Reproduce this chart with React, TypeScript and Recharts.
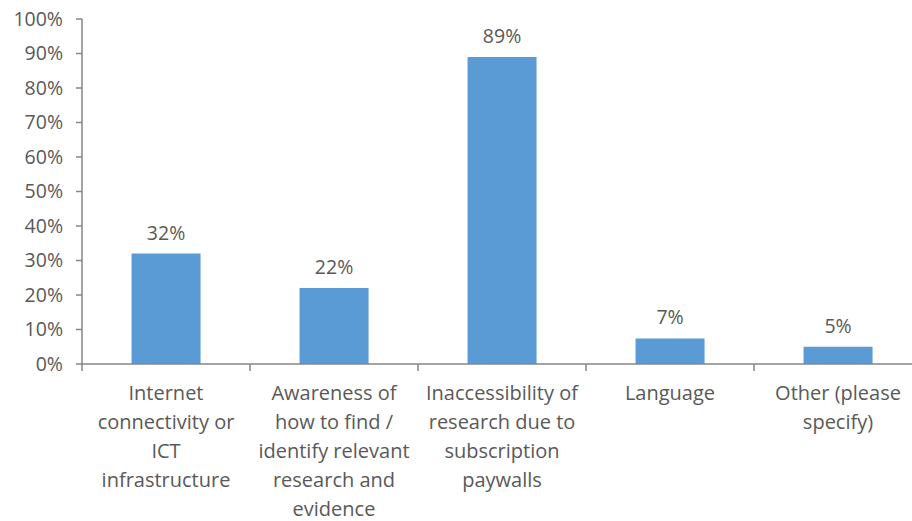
import { Bar, BarChart, LabelList, XAxis, YAxis } from "recharts";

const categories = [
  "Internet\nconnectivity or\nICT\ninfrastructure",
  "Awareness of\nhow to find /\nidentify relevant\nresearch and\nevidence",
  "Inaccessibility of\nresearch due to\nsubscription\npaywalls",
  "Language",
  "Other (please\nspecify)",
];
const shares = [32, 22, 89, 7.4, 5];
const yTicks = [0, 10, 20, 30, 40, 50, 60, 70, 80, 90, 100];

const data = categories.map((name, i) => ({ name, value: shares[i] }));

const CHART_W = 922;
const CHART_H = 521;
const Y_AXIS_W = 82;
const HALF_BAND = (CHART_W - Y_AXIS_W) / categories.length / 2;
const TEXT = "#595959";
const AXIS = "#868686";
const FONT = "'Open Sans', sans-serif";

function CategoryTick(props: any) {
  const { x, y, payload, index } = props;
  const lines = String(payload.value).split("\n");
  return (
    <g>
      <line x1={x - HALF_BAND} y1={y - 8} x2={x - HALF_BAND} y2={y - 1} stroke={AXIS} strokeWidth={1.5} />
      {index === categories.length - 1 && (
        <line x1={x + HALF_BAND} y1={y - 8} x2={x + HALF_BAND} y2={y - 1} stroke={AXIS} strokeWidth={1.5} />
      )}
      <text x={x} y={y + 28} textAnchor="middle" fill={TEXT} fontSize={20} fontFamily={FONT}>
        {lines.map((line, i) => (
          <tspan key={i} x={x} dy={i === 0 ? 0 : 29}>
            {line}
          </tspan>
        ))}
      </text>
    </g>
  );
}

export default function App() {
  return (
    <div style={{ position: "fixed", top: 0, left: 0, width: 912, height: 521, overflow: "hidden", background: "#fff" }}>
      <BarChart
        width={CHART_W}
        height={CHART_H}
        data={data}
        margin={{ top: 19, right: 0, left: 0, bottom: 0 }}
        barCategoryGap="29.5%"
      >
        <XAxis
          dataKey="name"
          height={157}
          interval={0}
          tickLine={false}
          axisLine={{ stroke: AXIS, strokeWidth: 1.5 }}
          tick={<CategoryTick />}
        />
        <YAxis
          width={Y_AXIS_W}
          domain={[0, 100]}
          ticks={yTicks}
          interval={0}
          tickFormatter={(v) => `${v}%`}
          tickSize={6}
          tickMargin={13}
          tickLine={{ stroke: AXIS, strokeWidth: 1.5 }}
          axisLine={{ stroke: AXIS, strokeWidth: 1.5 }}
          tick={{ fill: TEXT, fontSize: 19.5, fontFamily: FONT }}
        />
        <Bar dataKey="value" fill="#5B9BD5" isAnimationActive={false}>
          <LabelList
            dataKey="value"
            position="top"
            offset={14}
            fill={TEXT}
            fontSize={19.5}
            fontFamily={FONT}
            formatter={(v: any) => `${Math.round(Number(v))}%`}
          />
        </Bar>
      </BarChart>
    </div>
  );
}
